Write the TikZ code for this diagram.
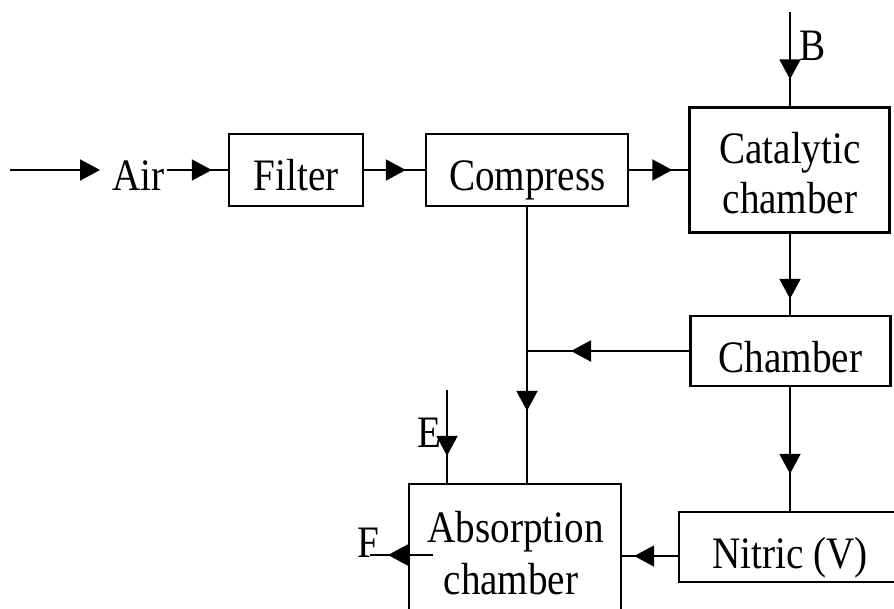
\documentclass[tikz,border=0pt]{standalone}
\usepackage{fontspec}
\setmainfont{Liberation Serif}[FakeStretch=0.87]
\usetikzlibrary{arrows.meta,calc}
\tikzset{
  box/.style={draw, line width=2.4pt, rectangle, inner sep=0pt},
  lbl/.style={inner sep=0pt, anchor=base, font=\fontsize{45}{50}\selectfont},
  conn/.style={line width=2pt},
  arr/.style={line width=2pt, -{Triangle[length=20pt,width=21pt]}}
}
\begin{document}
\begin{tikzpicture}[x=1pt,y=-1pt]
\useasboundingbox (0,0) rectangle (894,608);
% boxes
\node[box, minimum width=134pt, minimum height=72pt] (filter) at (296,170) {};
\node[box, minimum width=202pt, minimum height=72pt] (compress) at (527,170) {};
\node[box, minimum width=200pt, minimum height=125pt] (cat) at (789.5,170) {};
\node[box, minimum width=200pt, minimum height=70pt] (chamber) at (790.5,351) {};
\node[box, minimum width=222pt, minimum height=70pt] (nitric) at (790,547) {};
\node[box, minimum width=212pt, minimum height=150pt] (absorb) at (515,559) {};
% texts
\node[lbl] (airtxt) at (138.5,190) {Air};
\node[lbl] (filtertxt) at (296,190) {Filter};
\node[lbl] (comptxt) at (527.5,190) {Compress};
\node[lbl] (cattxta) at (790,163) {Catalytic};
\node[lbl] (cattxtb) at (790,213) {chamber};
\node[lbl] (chambtxt) at (790.5,372) {Chamber};
\node[lbl] (nittxt) at (790,568) {Nitric (V)};
\node[lbl] (abstxta) at (515.5,542) {Absorption};
\node[lbl] (abstxtb) at (511,594) {chamber};
\node[lbl] (btxt) at (812.5,60) {B};
\node[lbl] (etxt) at (429.5,447) {E};
\node[lbl] (ftxt) at (368,557) {F};
% coordinates
\coordinate (airstart) at (10,170);
\coordinate (airtip) at (100,170);
\coordinate (airout) at (167,170);
\coordinate (bstart) at (790,12);
\coordinate (junc) at (compress.south |- chamber.west);
\coordinate (nout) at (679,556);
\coordinate (estart) at (447,390);
\coordinate (fin) at (433,555);
\coordinate (fend) at (370,555);
% top row
\draw[arr] (airstart) -- (airtip);
\draw[conn] (airout) -- (filter.west);
\draw[arr] (airout) -- ($(filter.west)+(-16,0)$);
\draw[conn] (filter.east) -- (compress.west);
\draw[arr] (filter.east) -- ($(compress.west)+(-19,0)$);
\draw[conn] (compress.east) -- (cat.west);
\draw[arr] (compress.east) -- ($(cat.west)+(-16,0)$);
% B
\draw[conn] (bstart) -- (bstart |- cat.north);
\draw[arr] (bstart) -- ($(bstart |- cat.north)+(0,-27)$);
% cat -> chamber
\draw[conn] (cat.south -| bstart) -- (bstart |- chamber.north);
\draw[arr] (cat.south -| bstart) -- ($(bstart |- chamber.north)+(0,-16)$);
% chamber -> junction
\draw[conn] (chamber.west) -- (junc);
\draw[arr] (chamber.west) -- ($(junc)+(44,0)$);
% compress -> absorption
\draw[conn] (compress.south) -- (compress.south |- absorb.north);
\draw[arr] (compress.south) -- ($(compress.south |- absorb.north)+(0,-72)$);
% chamber -> nitric
\draw[conn] (chamber.south -| bstart) -- (bstart |- nitric.north);
\draw[arr] (chamber.south -| bstart) -- ($(bstart |- nitric.north)+(0,-37)$);
% nitric -> absorption
\draw[conn] (nout) -- (nout -| absorb.east);
\draw[arr] (nout) -- ($(nout -| absorb.east)+(12,0)$);
% E
\draw[conn] (estart) -- (estart |- absorb.north);
\draw[arr] (estart) -- ($(estart |- absorb.north)+(0,-27)$);
% F
\draw[conn] (fin) -- (fend);
\draw[arr] (fin) -- ($(fend)+(18,0)$);
\end{tikzpicture}
\end{document}
